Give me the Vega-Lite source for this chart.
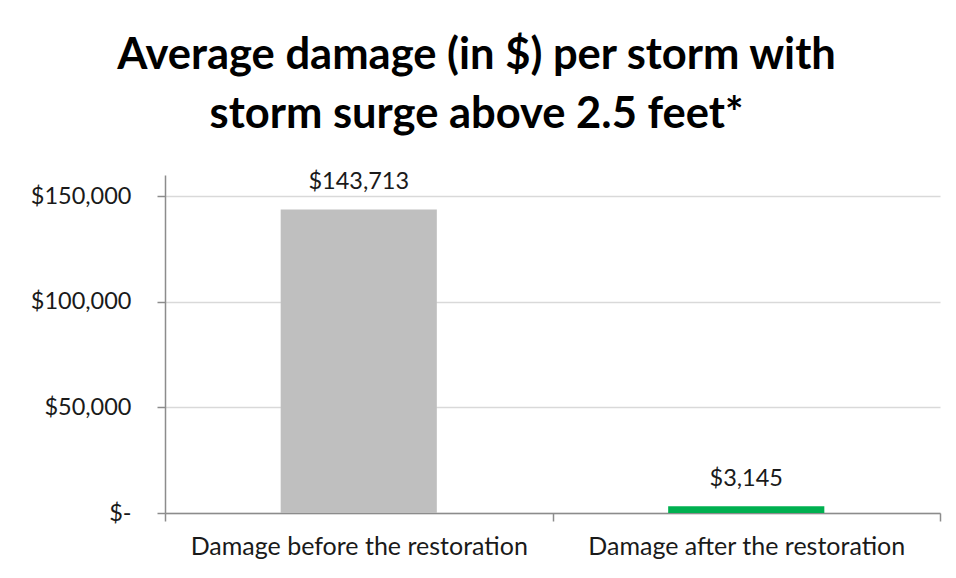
{
  "$schema": "https://vega.github.io/schema/vega-lite/v6.json",
  "autosize": {"type": "none"},
  "width": 775,
  "height": 338,
  "padding": {"left": 165, "top": 175, "right": 16, "bottom": 65},
  "background": "white",
  "title": {
    "text": ["Average damage (in $) per storm with", "storm surge above 2.5 feet*"],
    "font": "Lato",
    "fontSize": 43.5,
    "fontWeight": "bold",
    "color": "#000000",
    "anchor": "middle",
    "frame": "group",
    "dx": -76,
    "lineHeight": 59,
    "offset": 33
  },
  "data": {
    "values": [
      {"category": "Damage before the restoration", "damage": 143713},
      {"category": "Damage after the restoration", "damage": 3145}
    ]
  },
  "encoding": {
    "x": {
      "field": "category",
      "type": "nominal",
      "sort": null,
      "scale": {"paddingInner": 0, "paddingOuter": 0},
      "axis": {
        "title": null,
        "labelAngle": 0,
        "labelFont": "Lato",
        "labelFontSize": 25,
        "labelColor": "#1a1a1a",
        "labelPadding": 13,
        "labelLimit": 0,
        "tickBand": "extent",
        "tickSize": 8,
        "tickColor": "#8c8c8c",
        "domainColor": "#8c8c8c",
        "domainWidth": 1.5,
        "tickWidth": 1.5
      }
    },
    "y": {
      "field": "damage",
      "type": "quantitative",
      "scale": {"domain": [0, 160000], "nice": false},
      "axis": {
        "title": null,
        "values": [0, 50000, 100000, 150000],
        "labelExpr": "datum.value == 0 ? '$-' : '$' + format(datum.value, ',')",
        "labelFont": "Lato",
        "labelFontSize": 23.5,
        "labelColor": "#1a1a1a",
        "labelPadding": 26,
        "tickSize": 8,
        "tickColor": "#8c8c8c",
        "tickWidth": 1.5,
        "domainColor": "#8c8c8c",
        "domainWidth": 1.5,
        "grid": true,
        "gridColor": "#d9d9d9",
        "gridWidth": 1.5
      }
    }
  },
  "layer": [
    {
      "mark": {"type": "bar", "width": {"band": 0.403}},
      "encoding": {
        "color": {
          "field": "category",
          "type": "nominal",
          "scale": {
            "domain": ["Damage before the restoration", "Damage after the restoration"],
            "range": ["#bfbfbf", "#00b050"]
          },
          "legend": null
        }
      }
    },
    {
      "mark": {"type": "text", "font": "Lato", "fontSize": 23.5, "color": "#1a1a1a", "baseline": "alphabetic", "dy": -20},
      "encoding": {
        "text": {"field": "damage", "type": "quantitative", "format": "$,"}
      }
    }
  ],
  "config": {"view": {"stroke": null}}
}
